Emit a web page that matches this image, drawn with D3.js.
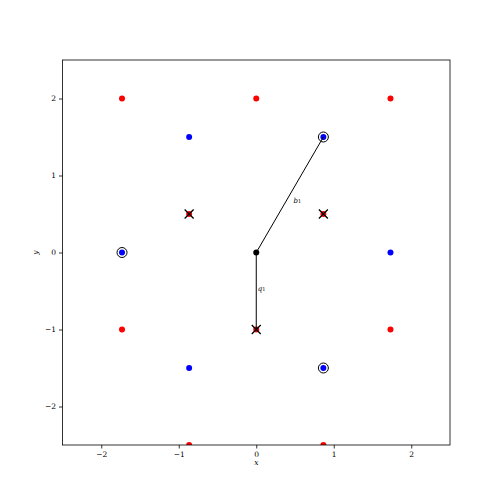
<!DOCTYPE html>
<html>
<head>
<meta charset="utf-8">
<script src="https://cdn.jsdelivr.net/npm/d3@7"></script>
<style>
  body { margin: 0; background: #fff; }
  svg { font-family: "DejaVu Serif", serif; }
  .axis text { font-size: 7.5px; font-family: "DejaVu Serif", serif; }
</style>
</head>
<body>
<svg width="500" height="500"></svg>
<script>
const s3 = Math.sqrt(3) / 2;

const red_points = [
    [-2 * s3, 2], [0, 2], [2 * s3, 2],
    [-s3, 0.5], [s3, 0.5],
    [-2 * s3, -1], [0, -1], [2 * s3, -1],
    [-s3, -2.5], [s3, -2.5]
];
const blue_points = [
    [-s3, 1.5], [s3, 1.5],
    [-2 * s3, 0], [2 * s3, 0],
    [-s3, -1.5], [s3, -1.5]
];
const circled_points = [[s3, 1.5], [-2 * s3, 0], [s3, -1.5]];
const cross_points = [[-s3, 0.5], [s3, 0.5], [0, -1]];
const origin = [0, 0];
const vectors = [
    { to: [s3, 1.5], label: 'b', sub: '1', at: [0.53, 0.67] },
    { to: [0, -1], label: 'q', sub: '1', at: [0.07, -0.47] }
];
const x_ticks = [-2, -1, 0, 1, 2];
const y_ticks = [-2, -1, 0, 1, 2];

const MARGIN = { left: 62.5, right: 50, top: 60, bottom: 55 };
const WIDTH = 500 - MARGIN.left - MARGIN.right;
const HEIGHT = 500 - MARGIN.top - MARGIN.bottom;

const x = d3.scaleLinear().domain([-2.5, 2.5]).range([0, WIDTH]);
const y = d3.scaleLinear().domain([-2.5, 2.5]).range([HEIGHT, 0]);

const svg = d3.select('svg');
const chart = svg.append('g').attr('transform', `translate(${MARGIN.left}, ${MARGIN.top})`);

svg.append('defs').append('clipPath').attr('id', 'clip')
    .append('rect').attr('width', WIDTH).attr('height', HEIGHT);

const plot = chart.append('g').attr('clip-path', 'url(#clip)');

plot.selectAll('.red')
    .data(red_points)
    .enter()
    .append('circle')
    .attr('cx', d => x(d[0]))
    .attr('cy', d => y(d[1]))
    .attr('r', 3)
    .attr('fill', '#ff0000');

plot.selectAll('.blue')
    .data(blue_points)
    .enter()
    .append('circle')
    .attr('cx', d => x(d[0]))
    .attr('cy', d => y(d[1]))
    .attr('r', 3)
    .attr('fill', '#0000ff');

plot.selectAll('.ring')
    .data(circled_points)
    .enter()
    .append('circle')
    .attr('cx', d => x(d[0]))
    .attr('cy', d => y(d[1]))
    .attr('r', 5)
    .attr('fill', 'none')
    .attr('stroke', '#000')
    .attr('stroke-width', 1);

plot.selectAll('.vec')
    .data(vectors)
    .enter()
    .append('line')
    .attr('x1', x(origin[0]))
    .attr('y1', y(origin[1]))
    .attr('x2', d => x(d.to[0]))
    .attr('y2', d => y(d.to[1]))
    .attr('stroke', '#000')
    .attr('stroke-width', 1);

const lbl = plot.selectAll('.vlabel')
    .data(vectors)
    .enter()
    .append('text')
    .attr('x', d => x(d.at[0]))
    .attr('y', d => y(d.at[1]))
    .attr('text-anchor', 'middle')
    .attr('dominant-baseline', 'middle')
    .style('font-size', '7px')
    .style('font-style', 'italic');
lbl.append('tspan').text(d => d.label);
lbl.append('tspan').text(d => d.sub).attr('dy', 1.5).style('font-size', '5px').style('font-style', 'normal');

plot.append('circle')
    .attr('cx', x(origin[0]))
    .attr('cy', y(origin[1]))
    .attr('r', 3)
    .attr('fill', '#000');

const crosses = plot.selectAll('.cross')
    .data(cross_points)
    .enter()
    .append('path')
    .attr('d', d => {
        const cx = x(d[0]), cy = y(d[1]), h = 4.5;
        return `M${cx - h},${cy - h}L${cx + h},${cy + h}M${cx - h},${cy + h}L${cx + h},${cy - h}`;
    })
    .attr('stroke', '#000')
    .attr('stroke-width', 1.3);

chart.append('g')
    .attr('class', 'axis')
    .attr('transform', `translate(0, ${HEIGHT})`)
    .call(d3.axisBottom(x).tickValues(x_ticks).tickSize(3.5).tickSizeOuter(0)
        .tickFormat(d => d < 0 ? '\u2212' + Math.abs(d) : d));

chart.append('g')
    .attr('class', 'axis')
    .call(d3.axisLeft(y).tickValues(y_ticks).tickSize(3.5).tickSizeOuter(0)
        .tickFormat(d => d < 0 ? '\u2212' + Math.abs(d) : d));

chart.selectAll('.axis .domain').remove();
chart.selectAll('.axis line').attr('stroke-width', 0.8);

chart.append('rect')
    .attr('width', WIDTH)
    .attr('height', HEIGHT)
    .attr('fill', 'none')
    .attr('stroke', '#000')
    .attr('stroke-width', 0.8);

chart.append('text')
    .attr('x', WIDTH / 2)
    .attr('y', HEIGHT + 20)
    .attr('text-anchor', 'middle')
    .style('font-size', '7.5px')
    .style('font-style', 'italic')
    .text('x');

chart.append('text')
    .attr('transform', `translate(-25, ${HEIGHT / 2}) rotate(-90)`)
    .attr('text-anchor', 'middle')
    .style('font-size', '7.5px')
    .style('font-style', 'italic')
    .text('y');
</script>
</body>
</html>
